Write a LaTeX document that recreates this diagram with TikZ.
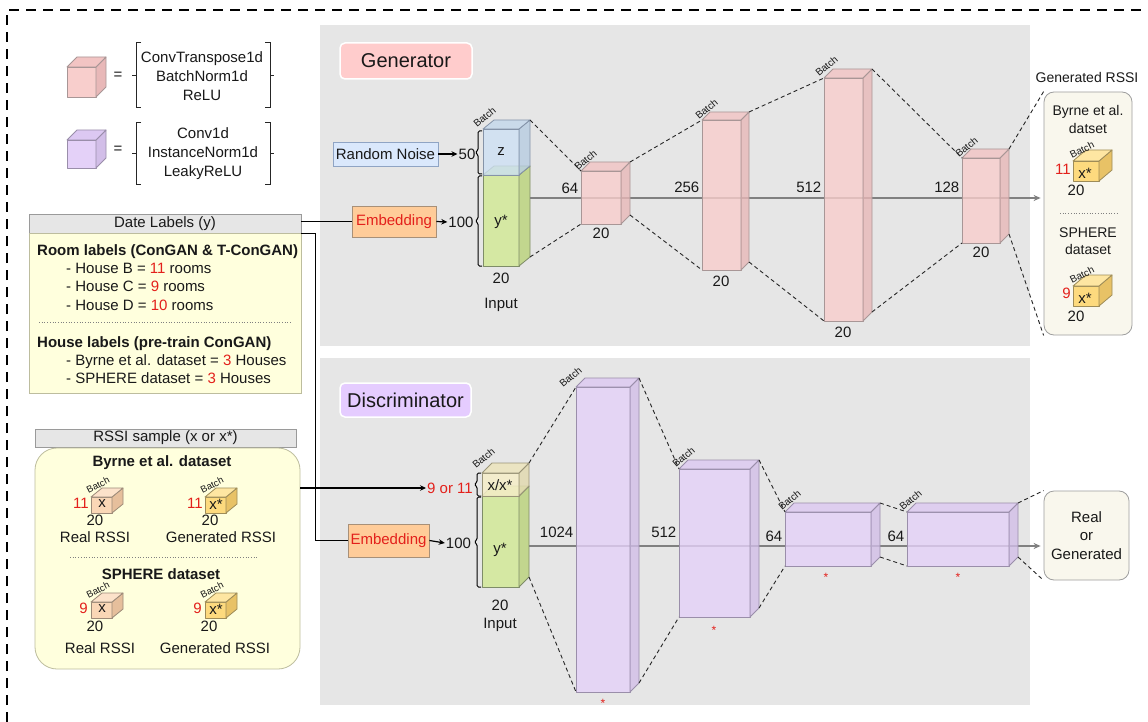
\documentclass[tikz,border=0pt]{standalone}
\usepackage{fontspec}
\setmainfont{Liberation Sans}
\usetikzlibrary{arrows.meta,calc}
\definecolor{cPanel}{HTML}{E6E6E6}
\definecolor{cPkF}{HTML}{F8CECC}
\definecolor{cPkS}{HTML}{E8B8B8}
\definecolor{cPkT}{HTML}{F2C4C3}
\definecolor{cPkL}{HTML}{A89696}
\definecolor{cPuF}{HTML}{E4D1F8}
\definecolor{cPuS}{HTML}{D2BEE8}
\definecolor{cPuT}{HTML}{DCC8F2}
\definecolor{cPuL}{HTML}{9A8EAA}
\definecolor{cGrF}{HTML}{D5E8A3}
\definecolor{cGrS}{HTML}{C2D68E}
\definecolor{cGrT}{HTML}{CCE09A}
\definecolor{cGrL}{HTML}{7E8C68}
\definecolor{cBlF}{HTML}{CDE0F4}
\definecolor{cBlS}{HTML}{B7CCE2}
\definecolor{cBlT}{HTML}{C3D7EC}
\definecolor{cBlL}{HTML}{8593A8}
\definecolor{cXF}{HTML}{F6EEC8}
\definecolor{cXS}{HTML}{E2DAB0}
\definecolor{cXT}{HTML}{EDE4BC}
\definecolor{cXL}{HTML}{9A9478}
\definecolor{cPeF}{HTML}{FAD7B6}
\definecolor{cPeS}{HTML}{E6BF9C}
\definecolor{cPeT}{HTML}{FCE2CA}
\definecolor{cPeL}{HTML}{9C8A78}
\definecolor{cYeF}{HTML}{FDDA7E}
\definecolor{cYeS}{HTML}{E8C266}
\definecolor{cYeT}{HTML}{FEE6A2}
\definecolor{cYeL}{HTML}{9E8C58}
\definecolor{cEmb}{HTML}{FFCC99}
\definecolor{cEmbL}{HTML}{A89078}
\definecolor{cNoise}{HTML}{DAE8FC}
\definecolor{cNoiseL}{HTML}{8FA4C4}
\definecolor{cHdr}{HTML}{E6E6E6}
\definecolor{cHdrL}{HTML}{9A9A9A}
\definecolor{cYel}{HTML}{FFFFDD}
\definecolor{cYelL}{HTML}{BDBD9E}
\definecolor{cBox}{HTML}{F9F7ED}
\definecolor{cBoxL}{HTML}{9E9E9E}
\definecolor{cRed}{HTML}{E3201B}
\definecolor{cTitG}{HTML}{FFCCCC}
\definecolor{cTitD}{HTML}{E5CCFF}
\definecolor{cLine}{HTML}{808080}
\newcommand\rd[1]{\textcolor{cRed}{#1}}
\newcommand\mycube[9]{%
  \coordinate (#1-ftl) at (#2,#3);
  \coordinate (#1-ftr) at (#2+#4,#3);
  \coordinate (#1-fbl) at (#2,#3+#5);
  \coordinate (#1-fbr) at (#2+#4,#3+#5);
  \coordinate (#1-btl) at (#2+#6,#3-#7);
  \coordinate (#1-btr) at (#2+#4+#6,#3-#7);
  \coordinate (#1-bbr) at (#2+#4+#6,#3+#5-#7);
  \path[draw=#8L, fill=#8F, fill opacity=#9, line width=0.8pt, line join=round] (#1-ftl) rectangle (#1-fbr);
  \path[draw=#8L, fill=#8S, fill opacity=#9, line width=0.8pt, line join=round] (#1-ftr) -- (#1-btr) -- (#1-bbr) -- (#1-fbr) -- cycle;
  \path[draw=#8L, fill=#8T, fill opacity=#9, line width=0.8pt, line join=round] (#1-ftl) -- (#1-btl) -- (#1-btr) -- (#1-ftr) -- cycle;
}
\newcommand\mybrace[3]{%
  \draw[line width=1pt, rounded corners=1.5pt] (#1+4,#2) -- (#1,#2) -- (#1,{(#2+#3)/2-2}) -- (#1-3,{(#2+#3)/2}) -- (#1,{(#2+#3)/2+2}) -- (#1,#3) -- (#1+4,#3);}
\newcommand\mybrack[4]{%
  \draw[line width=1pt, draw=black!85] (#1+5,#3) -- (#1,#3) -- (#1,#4) -- (#1+5,#4);
  \draw[line width=1pt, draw=black!85] (#1,{(#3+#4)/2}) -- (#1-4,{(#3+#4)/2});
  \draw[line width=1pt, draw=black!85] (#2-5,#3) -- (#2,#3) -- (#2,#4) -- (#2-5,#4);
  \draw[line width=1pt, draw=black!85] (#2,{(#3+#4)/2}) -- (#2+4,{(#3+#4)/2});}
\tikzset{
  every node/.append style={inner sep=1pt, text=black!90},
  batchlab/.style={font=\fontsize{10}{12}\selectfont, rotate=40, anchor=south west, inner sep=0.5pt},
  sbatch/.style={font=\fontsize{9.5}{11}\selectfont, rotate=27, inner sep=0pt},
  conn/.style={draw=black, line width=1.2pt},
  arr/.style={draw=black, line width=1.2pt, -{Stealth[length=6pt,width=5.5pt]}},
  dsh/.style={draw=black!85, line width=0.9pt, dash pattern=on 4pt off 3pt},
  mainln/.style={draw=cLine, line width=1.2pt, -{Stealth[length=7pt,width=6pt]}, shorten >=3pt},
  hdr/.style={draw=cHdrL, fill=cHdr, line width=0.8pt},
  ybody/.style={draw=cYelL, fill=cYel, line width=0.8pt},
  rbox/.style={draw=cBoxL, fill=cBox, line width=0.8pt, rounded corners=10pt},
  title/.style={draw=white, line width=1.5pt, rounded corners=5pt, font=\fontsize{20}{24}\selectfont},
  embb/.style={draw=cEmbL, fill=cEmb, line width=0.8pt, text=cRed},
  ln/.style={anchor=base west},
  star/.style={anchor=base, text=cRed, font=\fontsize{12}{14}\selectfont},
  dimr/.style={anchor=south east},
}
\begin{document}
\begin{tikzpicture}[x=1pt, y=-1pt, font=\fontsize{15}{18}\selectfont]
\useasboundingbox (0,0) rectangle (1148,722);
\fill[white] (0,0) rectangle (1148,722);
% outer dashed border
\draw[line width=1.2pt, dash pattern=on 10pt off 7pt] (7,722) -- (7,10) -- (1148,10);
% panels
\fill[cPanel] (320,25) rectangle (1030,346);
\fill[cPanel] (320,358) rectangle (1030,705);

% ---------- legend ----------
\mycube{lgP}{67}{67}{29}{30}{10}{10}{cPk}{1}
\mycube{lgU}{67}{140}{29}{28}{10}{10}{cPu}{1}
\node (eq1) at (118,76) {=};
\node (eq2) at (118,150) {=};
\mybrack{136}{270}{43}{108}
\mybrack{136}{270}{123}{185}
\node[align=center, font=\fontsize{15}{19}\selectfont] (leg1) at (202,76) {ConvTranspose1d\\BatchNorm1d\\ReLU};
\node[align=center, font=\fontsize{15}{19}\selectfont] (leg2) at (203,154) {Conv1d\\InstanceNorm1d\\LeakyReLU};

% ---------- date labels ----------
\node[hdr, minimum width=272pt, minimum height=19pt] (datehdr) at (165,223.5) {Date Labels (y)};
\node[ybody, minimum width=272pt, minimum height=160pt] (datebody) at (165,313) {};
\node[ln, font=\fontsize{15}{18}\bfseries] (dl1) at (36,255) {Room labels (ConGAN \& T-ConGAN)};
\node[ln] (dl2) at (65,273) {- House B = \rd{11} rooms};
\node[ln] (dl3) at (65,291) {- House C = \rd{9} rooms};
\node[ln] (dl4) at (65,310) {- House D = \rd{10} rooms};
\draw[draw=gray, line width=0.7pt, dotted] (39,322) -- (291,322);
\node[ln, font=\fontsize{15}{18}\bfseries] (dl5) at (36,347) {House labels (pre-train ConGAN)};
\node[ln] (dl6) at (65,365) {- Byrne et al. dataset = \rd{3} Houses};
\node[ln] (dl7) at (65,383) {- SPHERE dataset = \rd{3} Houses};

% ---------- RSSI sample ----------
\node[hdr, minimum width=261pt, minimum height=18pt] (rssihdr) at (165.5,438) {RSSI sample (x or x*)};
\node[ybody, rounded corners=22pt, minimum width=265pt, minimum height=221pt] (rssibody) at (167.5,558.5) {};
\node[font=\fontsize{15}{18}\bfseries] (rb1) at (162,463) {Byrne et al. dataset};
\node[font=\fontsize{15}{18}\bfseries] (rb2) at (161,574) {SPHERE dataset};
\draw[draw=gray, line width=0.7pt, dotted] (70,557) -- (257,557);
\mycube{rc1}{91}{497}{21}{16}{11}{9}{cPe}{1}
\mycube{rc2}{205}{497}{21}{16}{11}{9}{cYe}{1}
\mycube{rc3}{91}{602}{21}{16}{11}{9}{cPe}{1}
\mycube{rc4}{205}{602}{21}{16}{11}{9}{cYe}{1}
\node[anchor=east, text=cRed] (rc1n) at (90,503) {11};
\node (rc1x) at (102,504) {x};
\node (rc1w) at (95,520) {20};
\node[sbatch] (rc1b) at (98,485) {Batch};
\node (rc1l) at (95,537) {Real RSSI};
\node[anchor=east, text=cRed] (rc2n) at (204,503) {11};
\node (rc2x) at (216,504) {x*};
\node (rc2w) at (210,520) {20};
\node[sbatch] (rc2b) at (212,485) {Batch};
\node (rc2l) at (221,537) {Generated RSSI};
\node[anchor=east, text=cRed] (rc3n) at (89,608) {9};
\node (rc3x) at (102,609) {x};
\node (rc3w) at (95,626) {20};
\node[sbatch] (rc3b) at (98,590) {Batch};
\node (rc3l) at (100,648) {Real RSSI};
\node[anchor=east, text=cRed] (rc4n) at (203,608) {9};
\node (rc4x) at (216,609) {x*};
\node (rc4w) at (209,626) {20};
\node[sbatch] (rc4b) at (212,590) {Batch};
\node (rc4l) at (215,648) {Generated RSSI};

% ---------- generator ----------
\node[title, fill=cTitG, minimum width=132pt, minimum height=36pt] (gtitle) at (406,61) {Generator};
\node[draw=cNoiseL, fill=cNoise, line width=0.8pt, minimum width=105pt, minimum height=24pt, inner sep=0pt] (noise) at (385.5,154) {Random Noise};
\node[embb, minimum width=84pt, minimum height=31pt] (gemb) at (394,221.5) {Embedding};
\node (g50) at (467,154) {50};
\node (g100) at (461,222) {100};
\mybrace{478}{131}{174}
\mybrace{478}{176}{266}
\mycube{gy}{483}{175}{36}{91}{11}{9}{cGr}{1}
\mycube{gz}{483}{129}{36}{46}{11}{9}{cBl}{0.8}
\node (gzt) at (501,152) {z};
\node (gyt) at (501,222) {y*};
\node (gin20) at (501,278) {20};
\node (ginp) at (501,305) {Input};
\node[batchlab] (gbat0) at ($(gz-ftl)+(-6,0)$) {Batch};

\node[rbox, minimum width=88pt, minimum height=243pt] (genbox) at (1088,213.5) {};
\node[font=\fontsize{14}{16}\selectfont] (genttl) at (1087,77) {Generated RSSI};
\node[align=center, font=\fontsize{14}{18}\selectfont] (gtx1) at (1088,119) {Byrne et al.\\datset};
\draw[draw=gray, line width=0.7pt, dotted] (1060,213) -- (1118,213);
\node[align=center, font=\fontsize{14}{17}\selectfont] (gtx2) at (1088,241) {SPHERE\\dataset};
\mycube{gc1}{1073}{161}{26}{20}{13}{11}{cYe}{1}
\mycube{gc2}{1073}{286}{26}{20}{13}{11}{cYe}{1}
\node[anchor=east, text=cRed] (gc1n) at (1072,169) {11};
\node (gc1x) at (1085,173) {x*};
\node (gc1w) at (1076,190) {20};
\node[sbatch, font=\fontsize{10}{12}\selectfont] (gc1b) at (1082,150) {Batch};
\node[anchor=east, text=cRed] (gc2n) at (1072,293) {9};
\node (gc2x) at (1085,298) {x*};
\node (gc2w) at (1076,316) {20};
\node[sbatch, font=\fontsize{10}{12}\selectfont] (gc2b) at (1082,275) {Batch};

\coordinate (gline) at (530,198);
\draw[mainln] (gline) -- (gline -| genbox.west);

\mycube{g1}{581}{171}{40}{53}{9}{9}{cPk}{0.8}
\mycube{g2}{702}{120}{39}{150}{8}{8}{cPk}{0.8}
\mycube{g3}{824}{78}{39}{243}{9}{9}{cPk}{0.8}
\mycube{g4}{962}{158}{38}{85}{9}{9}{cPk}{0.8}
\draw[dsh] (gz-btr) -- (g1-ftl);
\draw[dsh] (gy-bbr) -- (g1-fbl);
\draw[dsh] (g1-btr) -- (g2-ftl);
\draw[dsh] (g1-bbr) -- (g2-fbl);
\draw[dsh] (g2-btr) -- (g3-ftl);
\draw[dsh] (g2-bbr) -- (g3-fbl);
\draw[dsh] (g3-btr) -- (g4-ftl);
\draw[dsh] (g3-bbr) -- (g4-fbl);
\draw[dsh] (g4-btr) -- (genbox.north west);
\draw[dsh] (g4-bbr) -- (genbox.south west);
\node[batchlab] (gbat1) at ($(g1-ftl)+(-3,1)$) {Batch};
\node[batchlab] (gbat2) at ($(g2-ftl)+(-3,1)$) {Batch};
\node[batchlab] (gbat3) at ($(g3-ftl)+(-5,0)$) {Batch};
\node[batchlab] (gbat4) at ($(g4-ftl)+(-3,1)$) {Batch};
\node[dimr] (gd1) at (579.5,195) {64};
\node[dimr] (gd2) at (700.5,193.5) {256};
\node[dimr] (gd3) at (822.5,193.5) {512};
\node[dimr] (gd4) at (960.5,193.5) {128};
\node (gw1) at (601,233) {20};
\node (gw2) at (721,281) {20};
\node (gw3) at (843,332) {20};
\node (gw4) at (981,252) {20};

% ---------- discriminator ----------
\node[title, fill=cTitD, minimum width=131pt, minimum height=34pt] (dtitle) at (405.5,400) {Discriminator};
\node[embb, minimum width=81pt, minimum height=33pt] (demb) at (388.5,540.5) {Embedding};
\node (dl100) at (458.5,543) {100};
\node[text=cRed] (nine) at (450,488) {9 or 11};
\mybrace{477}{473}{496}
\mybrace{477}{497}{587}
\mycube{dy}{482}{496}{37}{91}{10}{10}{cGr}{1}
\mycube{dx}{482}{473}{37}{23}{10}{10}{cX}{0.85}
\node (dxt) at (500,485) {x/x*};
\node (dyt) at (500,550) {y*};
\node (din20) at (500,605) {20};
\node (dinp) at (500,625) {Input};
\node[batchlab] (dbat0) at ($(dx-ftl)+(-6,-3)$) {Batch};

\node[rbox, minimum width=85pt, minimum height=89pt, align=center, font=\fontsize{15}{18.5}\selectfont] (rog) at (1086.5,535.5) {Real\\or\\Generated};

\coordinate (dline) at (529,546);
\draw[mainln] (dline) -- (dline -| rog.west);

\mycube{d1}{576}{387}{54}{305}{9}{9}{cPu}{0.8}
\mycube{d2}{679}{469}{71}{148}{9}{9}{cPu}{0.8}
\mycube{d3}{785}{512}{86}{54}{9}{9}{cPu}{0.8}
\mycube{d4}{907}{512}{102}{54}{9}{9}{cPu}{0.8}
\draw[dsh] (dx-btr) -- (d1-ftl);
\draw[dsh] (dy-bbr) -- (d1-fbl);
\draw[dsh] (d1-btr) -- (d2-ftl);
\draw[dsh] (d1-bbr) -- (d2-fbl);
\draw[dsh] (d2-btr) -- (d3-ftl);
\draw[dsh] (d2-bbr) -- (d3-fbl);
\draw[dsh] (d3-btr) -- (d4-ftl);
\draw[dsh] (d3-bbr) -- (d4-fbl);
\draw[dsh] (d4-btr) -- (rog.north west);
\draw[dsh] (d4-bbr) -- (rog.south west);
\node[batchlab] (dbat1) at ($(d1-ftl)+(-13,2)$) {Batch};
\node[batchlab] (dbat2) at ($(d2-ftl)+(-3,0)$) {Batch};
\node[batchlab] (dbat3) at ($(d3-ftl)+(-3,0)$) {Batch};
\node[batchlab] (dbat4) at ($(d4-ftl)+(-4,0)$) {Batch};
\node[dimr] (dd1) at (574.5,539) {1024};
\node[dimr] (dd2) at (677.5,539) {512};
\node[dimr] (dd3) at (783.5,543) {64};
\node[dimr] (dd4) at (905.5,543) {64};
\node[star] (ds1) at (603,707) {*};
\node[star] (ds2) at (714,634) {*};
\node[star] (ds3) at (826,581) {*};
\node[star] (ds4) at (958,581) {*};

% ---------- connectors ----------
\draw[conn] (datehdr.east |- gemb.west) -- (gemb.west);
\draw[conn] (datehdr.south east) -- ++(14,0) |- (demb.west);
\draw[arr] (rssibody.east |- nine.west) -- (nine.west);
\draw[arr] (noise.east) -- (g50.west);
\draw[arr] (gemb.east) -- (g100.west);
\draw[arr] (demb.east) -- (dl100.west);
\end{tikzpicture}
\end{document}
